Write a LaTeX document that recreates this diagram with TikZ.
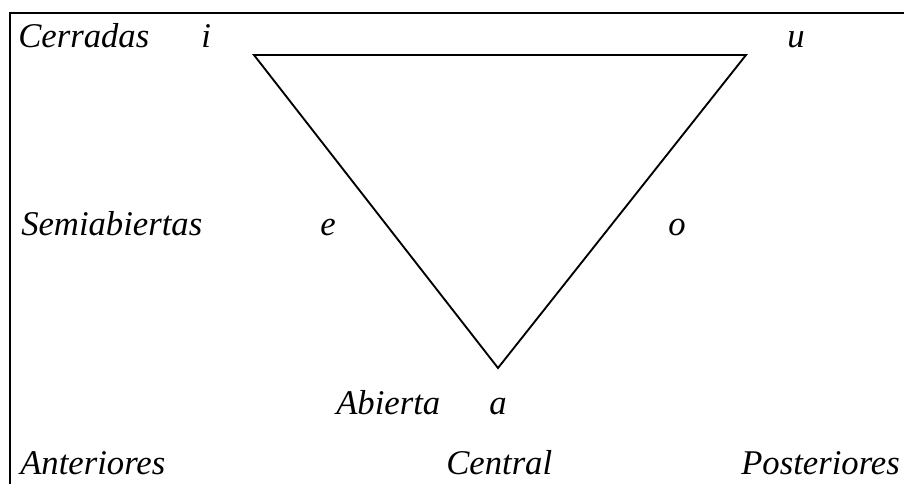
\documentclass[tikz,border=0pt]{standalone}
\usepackage{fontspec}
\setmainfont{Liberation Serif}
\usetikzlibrary{positioning}

\begin{document}
\begin{tikzpicture}[
    x=0.75pt, y=-0.75pt,
    lbl/.style={anchor=base west, inner sep=0pt, font=\fontsize{26}{30}\selectfont\itshape},
    vow/.style={lbl},
    frame/.style={draw, line width=1.5pt},
    tri/.style={draw, line width=1.4pt, line join=miter},
]
\useasboundingbox (0,0) rectangle (904,483);

% frame (right and bottom sides fall outside the page)
\draw[frame] (10,13) rectangle (920,500);

% triangle corners
\coordinate (vi) at (254,55);
\coordinate (vu) at (746,55);
\coordinate (va) at (498,368);
\draw[tri] (vi) -- (vu) -- (va) -- cycle;

% row labels
\node[lbl] (cerr) at (18,47) {Cerradas};
\node[lbl] (semi) at (21,235) {Semiabiertas};
\node[lbl] (abie) at (336,414) {Abierta};

% vowels
\node[vow] (i) at (201,47) {i};
\node[vow] (u) at (787,47) {u};
\node[vow] (e) at (320,235) {e};
\node[vow] (o) at (668,235) {o};
\node[vow] (a) at (489,414) {a};

% bottom row
\node[lbl] (ante) at (20,474) {Anteriores};
\node[lbl] (cent) at (446,474) {Central};
\node[lbl] (post) at (741,474) {Posteriores};

\end{tikzpicture}
\end{document}
